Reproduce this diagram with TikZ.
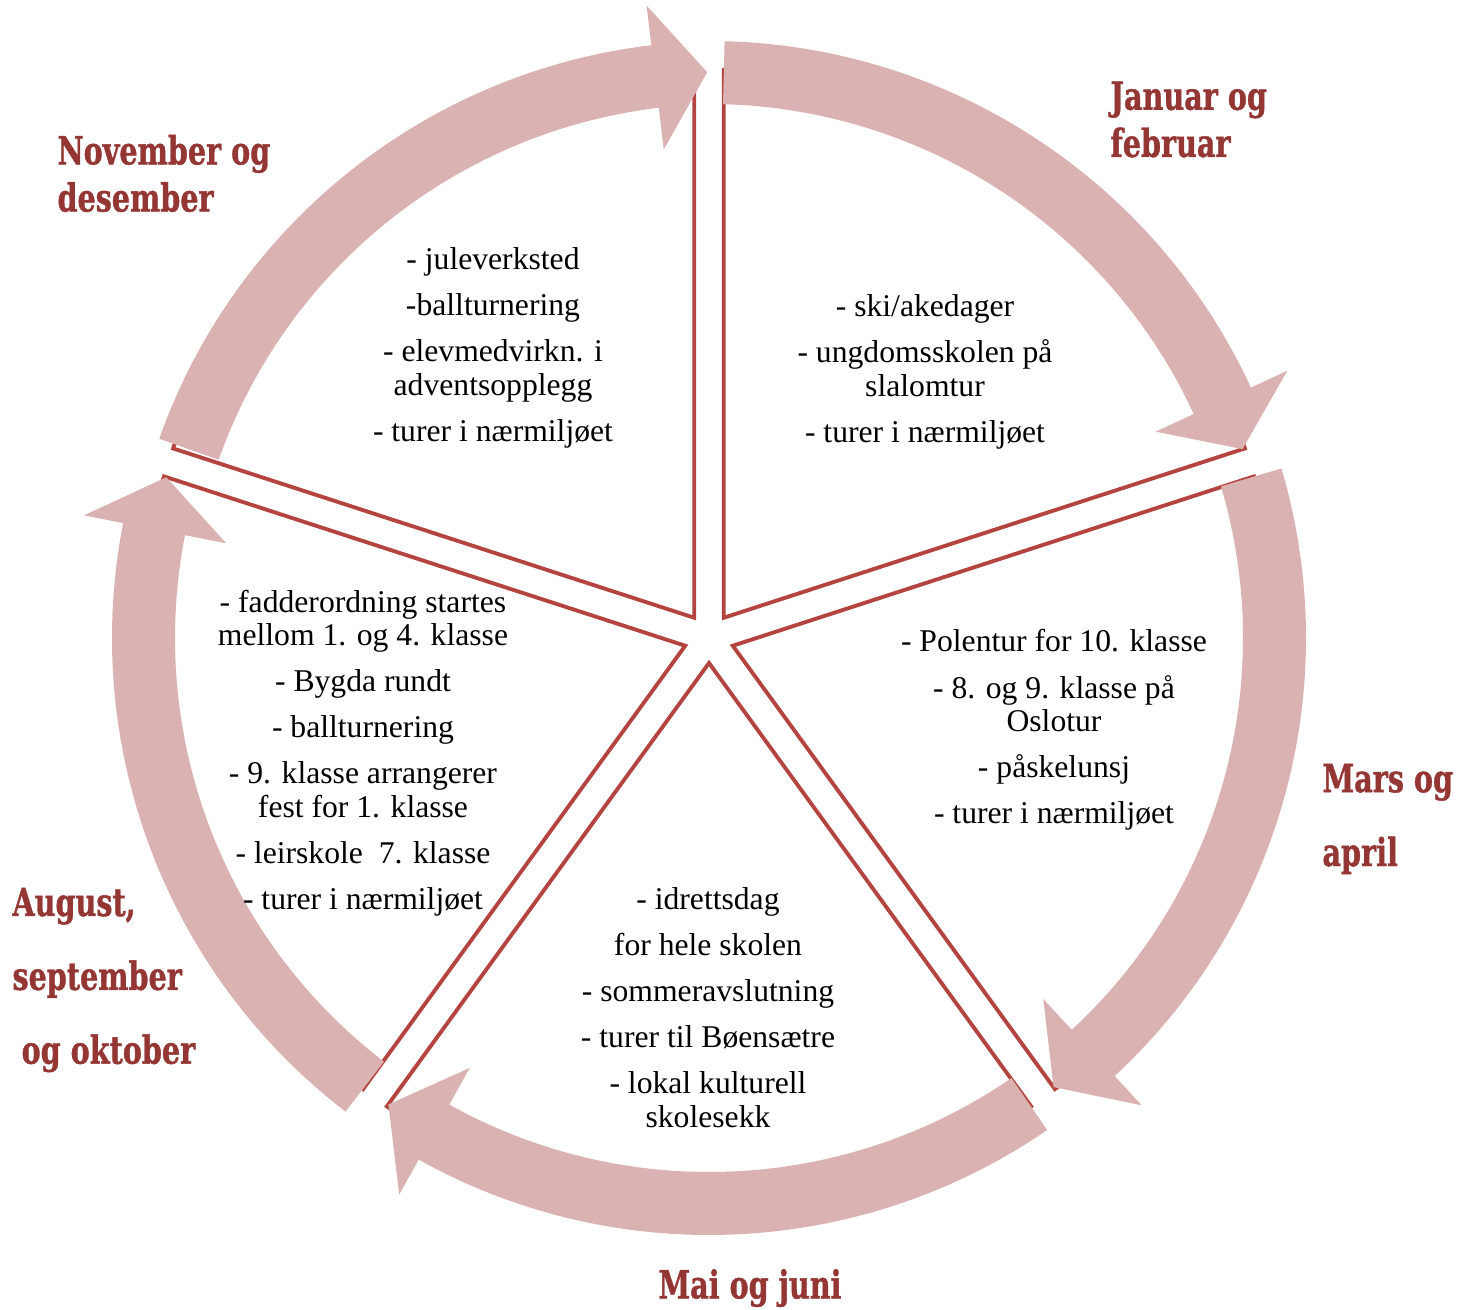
\documentclass[tikz,border=0pt]{standalone}
\usepackage{fontspec}
\setmainfont{Liberation Serif}
\newfontfamily\lblfont{DejaVu Serif}[BoldFeatures={FakeBold=1.2}]
\usepackage{tikz}
\definecolor{arrowpink}{RGB}{219,178,178}
\definecolor{wedgered}{RGB}{180,68,63}
\definecolor{monthred}{RGB}{148,54,52}

\begin{document}
\begin{tikzpicture}
  [x=0.01cm,y=0.01cm,
   wedge/.style={draw=wedgered,fill=white,line width=1.1pt},
   arrowband/.style={fill=arrowpink},
   txt/.style={align=center,font=\fontsize{9}{9.5}\selectfont},
   month/.style={align=left,anchor=west,inner sep=0pt,text=monthred,xscale=0.74,
                 font=\lblfont\bfseries\fontsize{11}{13.4}\selectfont}]

  \useasboundingbox (-709,-671) rectangle (762,638);

  % segments
  \foreach \m in {54,-18,-90,-162,126}
    \draw[wedge,shift={(\m:25)}] (0,0) -- (\m+36:548) arc[start angle=\m+36,end angle=\m-36,radius=548] -- cycle;

  % arrows
  \foreach \t/\p/\b/\s in {88.5/19.5/24.8/0,16.5/-52.5/-47.2/0,-55.5/-124.5/-119.1/0,232.5/163.5/168.9/0,160.5/91.5/96.8/13}
    \fill[arrowband,shift={(\s,0)}] (\t:597) arc[start angle=\t,end angle=\b,radius=597] -- (\b:637) -- (\p:566)
      -- (\b:492) -- (\b:534) arc[start angle=\b,end angle=\t,radius=534] -- cycle;

  \node[txt] (t1) at (-216,290) {- juleverksted\\[3.6pt] -ballturnering\\[3.6pt] - elevmedvirkn. i\\ adventsopplegg\\[3.6pt] - turer i nærmiljøet};
  \node[txt] (t2) at (216,266) {- ski/akedager\\[3.6pt] - ungdomsskolen på\\ slalomtur\\[3.6pt] - turer i nærmiljøet};
  \node[txt] (t3) at (345,-92) {- Polentur for 10. klasse\\[3.6pt] - 8. og 9. klasse på\\ Oslotur\\[3.6pt] - påskelunsj\\[3.6pt] - turer i nærmiljøet};
  \node[txt] (t4) at (-1,-369.5) {- idrettsdag\\[3.6pt] for hele skolen\\[3.6pt] - sommeravslutning\\[3.6pt] - turer til Bøensætre\\[3.6pt] - lokal kulturell\\ skolesekk};
  \node[txt] (t5) at (-346,-115) {- fadderordning startes\\ mellom 1. og 4. klasse\\[3.6pt] - Bygda rundt\\[3.6pt] - ballturnering\\[3.6pt] - 9. klasse arrangerer\\ fest for 1. klasse\\[3.6pt] - leirskole \ 7. klasse\\[3.6pt] - turer i nærmiljøet};

  \node[month] (m1) at (401,518.5) {Januar og\\ februar};
  \node[month] (m2) at (613,-181) {Mars og\\[7.6pt] april};
  \node[month,anchor=center] (m3) at (41,-650) {Mai og juni};
  \node[month] (m4) at (-697,-342) {August,\\[7.6pt] september\\[7.6pt] \hspace*{3.5pt}og oktober};
  \node[month] (m5) at (-652,464.5) {November og\\ desember};
\end{tikzpicture}
\end{document}
